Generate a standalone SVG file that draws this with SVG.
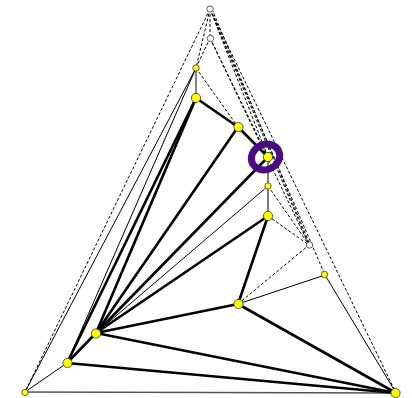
<svg xmlns="http://www.w3.org/2000/svg" width="412" height="398" viewBox="0 0 412 398">
<style>
.thick{stroke:#000;stroke-width:2.6;fill:none}
.thin{stroke:#000;stroke-width:1;fill:none}
.gray{stroke:#555;stroke-width:1.4;fill:none}
.dash{stroke:#000;stroke-width:1;stroke-dasharray:3,2;fill:none}
.big{fill:#ffff00;stroke:#333;stroke-width:0.8}
.white{fill:#fff;stroke:#333;stroke-width:0.8}
</style>
<rect width="412" height="398" fill="#fff"/>
<g id="connectors">
<line class="dash" x1="210" y1="9" x2="25" y2="392"/>
<line class="dash" x1="210" y1="9" x2="396" y2="393"/>
<line class="dash" x1="210" y1="9" x2="196" y2="68"/>
<line class="dash" x1="210" y1="38" x2="196" y2="68"/>
<line class="dash" x1="210" y1="9" x2="210" y2="38"/>
<line class="dash" x1="210" y1="9" x2="268" y2="157"/>
<line class="dash" x1="210" y1="38" x2="268" y2="157"/>
<line class="dash" x1="210" y1="9" x2="309" y2="245"/>
<line class="dash" x1="210" y1="38" x2="309" y2="245"/>
<line class="dash" x1="212" y1="9" x2="310" y2="245"/>
<line class="dash" x1="210" y1="9" x2="325" y2="275"/>
<line class="dash" x1="196" y1="68" x2="238" y2="127"/>
<line class="dash" x1="268" y1="186" x2="309" y2="245"/>
<line class="dash" x1="268" y1="216" x2="309" y2="245"/>
<line class="dash" x1="238" y1="304" x2="309" y2="245"/>
<line class="gray" x1="25" y1="392" x2="396" y2="393"/>
<line class="gray" x1="196" y1="68" x2="196" y2="98"/>
<line class="thin" x1="196" y1="68" x2="25" y2="392"/>
<line class="thin" x1="196" y1="68" x2="67" y2="363"/>
<line class="thin" x1="25" y1="392" x2="67" y2="363"/>
<line class="thin" x1="268" y1="157" x2="268" y2="216"/>
<line class="thin" x1="268" y1="186" x2="96" y2="333"/>
<line class="thin" x1="238" y1="304" x2="325" y2="275"/>
<line class="thin" x1="325" y1="275" x2="396" y2="393"/>
<line class="thick" x1="196" y1="98" x2="238" y2="127"/>
<line class="thick" x1="238" y1="127" x2="268" y2="157"/>
<line class="thick" x1="196" y1="98" x2="96" y2="333"/>
<line class="thick" x1="196" y1="98" x2="67" y2="363"/>
<line class="thick" x1="238" y1="127" x2="96" y2="333"/>
<line class="thick" x1="268" y1="157" x2="96" y2="333"/>
<line class="thick" x1="268" y1="216" x2="96" y2="333"/>
<line class="thick" x1="268" y1="216" x2="238" y2="304"/>
<line class="thick" x1="238" y1="304" x2="96" y2="333"/>
<line class="thick" x1="238" y1="304" x2="396" y2="393"/>
<line class="thick" x1="96" y1="333" x2="67" y2="363"/>
<line class="thick" x1="96" y1="333" x2="396" y2="393"/>
<line class="thick" x1="67" y1="363" x2="396" y2="393"/>
</g>
<g id="ring"><ellipse cx="265.5" cy="157" rx="14.5" ry="12.5" transform="rotate(-25 265.5 157)" fill="none" stroke="#4b0a80" stroke-width="7"/></g>
<g id="n_top"><circle class="white" cx="210" cy="9" r="3.2"/></g>
<g id="n_w2"><circle class="white" cx="210.5" cy="38.5" r="3.2"/></g>
<g id="n_y1"><circle class="big" cx="196" cy="68" r="3.2"/></g>
<g id="n_y2"><circle class="big" cx="196" cy="98" r="4.6"/></g>
<g id="n_y3"><circle class="big" cx="238.5" cy="127" r="4.6"/></g>
<g id="n_c"><circle class="big" cx="268" cy="157" r="4.6"/></g>
<g id="n_s186"><circle class="big" cx="268" cy="186" r="3.2"/></g>
<g id="n_l216"><circle class="big" cx="268" cy="216" r="4.6"/></g>
<g id="n_w309"><circle class="white" cx="309.5" cy="245" r="3.2"/></g>
<g id="n_s325"><circle class="big" cx="324.5" cy="274.5" r="3.2"/></g>
<g id="n_238"><circle class="big" cx="238.5" cy="304" r="4.6"/></g>
<g id="n_96"><circle class="big" cx="96" cy="333.5" r="4.6"/></g>
<g id="n_67"><circle class="big" cx="67.5" cy="363" r="4.6"/></g>
<g id="n_bl"><circle class="big" cx="25" cy="392.5" r="3.2"/></g>
<g id="n_br"><circle class="big" cx="395.5" cy="393" r="4.6"/></g>
</svg>
